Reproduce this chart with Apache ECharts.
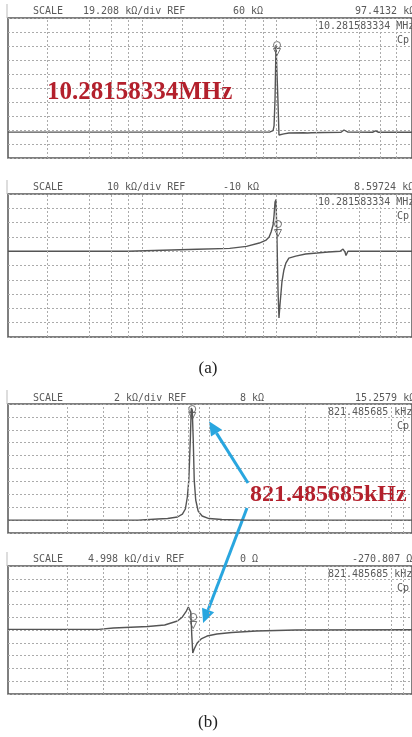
<!DOCTYPE html>
<html>
<head>
<meta charset="utf-8">
<script src="https://cdn.jsdelivr.net/npm/echarts@6/dist/echarts.min.js"></script>
<style>
  html, body { margin: 0; padding: 0; background: #ffffff; }
  #chart { width: 412px; height: 737px; }
</style>
</head>
<body>
<div id="chart"></div>
<script>
// Impedance analyser sweeps. x: sweep point, y: screen divisions (0 = bottom, 10 = top).

// (a) 10.28158334 MHz resonance — magnitude trace
const traceA1 = [
  [0, 1.85], [100, 1.85], [200, 1.85], [255, 1.85], [266, 1.86], [269, 1.95], [270, 2.3],
  [271, 4.2], [272, 8.07], [273, 8.0], [274, 4.0], [275, 1.64], [277, 1.62], [280, 1.72],
  [285, 1.79], [300, 1.8], [304, 1.79], [306, 1.7], [308, 1.8], [320, 1.82], [338, 1.84],
  [341, 2.0], [345, 1.85], [370, 1.84], [373, 1.93], [376, 1.84], [410, 1.84]
];
// (a) reactance-type trace
const traceA2 = [
  [0, 6.0], [122, 6.0], [124, 6.08], [192, 6.14], [225, 6.2], [242, 6.34], [255, 6.57],
  [262, 6.78], [265, 6.99], [267, 7.34], [269, 7.83], [270, 8.5], [271, 9.44], [272, 9.62],
  [273, 6.8], [274, 3.3], [275, 1.33], [276, 2.24], [278, 3.85], [280, 4.69], [282, 5.17],
  [285, 5.52], [292, 5.66], [302, 5.8], [325, 5.94], [337, 6.0], [340, 6.15], [342, 5.94],
  [343, 5.7], [345, 6.0], [368, 6.0], [370, 6.1], [373, 6.0], [410, 6.0]
];
// (b) 821.485685 kHz resonance — magnitude trace
const traceB1 = [
  [0, 1.0], [132, 1.0], [152, 1.08], [162, 1.12], [172, 1.24], [177, 1.47], [180, 1.86],
  [182, 2.79], [183.5, 4.1], [185, 7.2], [186, 9.69], [187, 9.53], [188, 7.2], [189, 4.1],
  [190.5, 2.56], [193, 1.7], [197, 1.32], [204, 1.12], [217, 1.05], [242, 1.0], [410, 1.0]
];
// (b) reactance-type trace
const traceB2 = [
  [0, 5.05], [92, 5.05], [107, 5.16], [142, 5.27], [159, 5.39], [172, 5.7], [177, 6.02],
  [181, 6.48], [183, 6.8], [184.5, 6.88], [185.5, 6.4], [186.5, 4.6], [187.5, 3.2],
  [189, 3.52], [192, 3.98], [196, 4.3], [202, 4.53], [212, 4.69], [227, 4.8], [252, 4.92],
  [292, 5.0], [410, 5.02]
];

// marker (circle above, inverted triangle below) at each resonance
const markerA1 = [[273, 8.07], [273, 7.57]];
const markerA2 = [[274, 7.9], [274, 7.27]];
const markerB1 = [[187, 9.61], [187, 9.07]];
const markerB2 = [[188, 6.02], [188, 5.39]];

// vertical graticule positions (sweep points)
const vLinesA = [40, 82, 105, 122, 136, 177, 218, 241, 259, 272, 313, 356, 378, 394];
const vLinesB = [60, 97, 122, 141, 172, 183, 194, 204, 265, 302, 325, 342, 389, 401];

// screen header fields
const headerA1 = ['SCALE', '19.208 kΩ/div REF', '60 kΩ', '97.4132 kΩ'];
const headerA2 = ['SCALE', '10 kΩ/div REF', '-10 kΩ', '8.59724 kΩ'];
const headerB1 = ['SCALE', '2 kΩ/div REF', '8 kΩ', '15.2579 kΩ'];
const headerB2 = ['SCALE', '4.998 kΩ/div REF', '0 Ω', '-270.807 Ω'];
const freqA = '10.281583334 MHz';
const freqB = '821.485685 kHz';
const paramName = 'Cp';
const calloutA = '10.28158334MHz';
const calloutB = '821.485685kHz';
const captions = ['(a)', '(b)'];

const panels = [
  { top: 18,  height: 140, trace: traceA1, marker: markerA1, vl: vLinesA, header: headerA1, freq: freqA, hx: [33, 83, 233, 355], hy: 11 },
  { top: 194, height: 143, trace: traceA2, marker: markerA2, vl: vLinesA, header: headerA2, freq: freqA, hx: [33, 107, 223, 354], hy: 187 },
  { top: 404, height: 129, trace: traceB1, marker: markerB1, vl: vLinesB, header: headerB1, freq: freqB, hx: [33, 114, 240, 355], hy: 398 },
  { top: 566, height: 128, trace: traceB2, marker: markerB2, vl: vLinesB, header: headerB2, freq: freqB, hx: [33, 88, 240, 352], hy: 559 }
];

const gridColor = '#ababab';
const traceColor = '#555555';
const monoFont = '10px "DejaVu Sans Mono", monospace';

const chart = echarts.init(document.getElementById('chart'), null, { renderer: 'canvas' });

const grid = [], xAxis = [], yAxis = [], series = [];
panels.forEach((p, i) => {
  grid.push({
    left: 8, top: p.top, width: 410, height: p.height,
    show: true, borderColor: '#555', borderWidth: 1.5, backgroundColor: 'transparent'
  });
  xAxis.push({
    gridIndex: i, type: 'value', min: 0, max: 410,
    axisLine: { show: false }, axisTick: { show: false }, axisLabel: { show: false },
    splitLine: { show: false }
  });
  yAxis.push({
    gridIndex: i, type: 'value', min: 0, max: 10, interval: 1,
    axisLine: { show: false }, axisTick: { show: false }, axisLabel: { show: false },
    splitLine: { show: true, lineStyle: { type: [2, 2], color: gridColor, width: 1 } }
  });
  series.push({
    type: 'line', xAxisIndex: i, yAxisIndex: i, data: p.trace,
    showSymbol: false, smooth: false, z: 3,
    lineStyle: { color: traceColor, width: 1.4 },
    markLine: {
      silent: true, symbol: ['none', 'none'], label: { show: false }, animation: false,
      lineStyle: { type: [2, 2], color: gridColor, width: 1 },
      data: p.vl.map(v => ({ xAxis: v }))
    }
  });
  series.push({
    type: 'scatter', xAxisIndex: i, yAxisIndex: i, z: 4,
    data: [
      { value: p.marker[0], symbol: 'circle' },
      { value: p.marker[1], symbol: 'triangle', symbolRotate: 180 }
    ],
    symbolSize: 7,
    itemStyle: { color: 'rgba(255,255,255,0)', borderColor: '#555', borderWidth: 1 }
  });
});

chart.setOption({
  animation: false,
  backgroundColor: '#ffffff',
  grid, xAxis, yAxis, series
});

// text, callouts and arrows
const g = [];
panels.forEach(p => {
  p.header.forEach((t, k) => {
    g.push({ type: 'text', x: p.hx[k], y: p.hy, silent: true,
      style: { text: t, font: monoFont, fill: '#5a5a5a', textVerticalAlign: 'middle' } });
  });
  g.push({ type: 'text', x: p.freq === freqA ? 318 : 328, y: p.top + 8, silent: true,
    style: { text: p.freq, font: monoFont, fill: '#5a5a5a', textVerticalAlign: 'middle' } });
  g.push({ type: 'text', x: 397, y: p.top + 22, silent: true,
    style: { text: paramName, font: monoFont, fill: '#5a5a5a', textVerticalAlign: 'middle' } });
  g.push({ type: 'line', silent: true,
    shape: { x1: 7, y1: p.top - 14, x2: 7, y2: p.top },
    style: { stroke: '#bbb', lineWidth: 1 } });
});

g.push({ type: 'text', x: 47, y: 93, silent: true,
  style: { text: calloutA, font: 'bold 25px "Liberation Serif", serif', fill: '#b3202c', textVerticalAlign: 'middle' } });
g.push({ type: 'text', x: 250, y: 495, silent: true,
  style: { text: calloutB, font: 'bold 24px "Liberation Serif", serif', fill: '#b3202c', textVerticalAlign: 'middle' } });

g.push({ type: 'text', x: 208, y: 369, silent: true,
  style: { text: captions[0], font: '17px "Liberation Serif", serif', fill: '#222', textAlign: 'center', textVerticalAlign: 'middle' } });
g.push({ type: 'text', x: 208, y: 723, silent: true,
  style: { text: captions[1], font: '17px "Liberation Serif", serif', fill: '#222', textAlign: 'center', textVerticalAlign: 'middle' } });

// arrows from the (b) callout to the two resonance markers
function arrow(s, t) {
  const dx = t[0] - s[0], dy = t[1] - s[1];
  const len = Math.sqrt(dx * dx + dy * dy);
  const ux = dx / len, uy = dy / len;
  const L = 14, W = 6.5;
  const bx = t[0] - ux * L, by = t[1] - uy * L;
  const col = '#29a6df';
  g.push({ type: 'line', silent: true,
    shape: { x1: s[0], y1: s[1], x2: bx, y2: by },
    style: { stroke: col, lineWidth: 3 } });
  g.push({ type: 'polygon', silent: true,
    shape: { points: [[t[0], t[1]], [bx - uy * W, by + ux * W], [bx + uy * W, by - ux * W]] },
    style: { fill: col } });
}
const tipB1 = chart.convertToPixel({ gridIndex: 2 }, [markerB1[0][0] + 17, markerB1[0][1] - 0.95]);
const tipB2 = chart.convertToPixel({ gridIndex: 3 }, [markerB2[1][0] + 10, markerB2[1][1] + 0.15]);
arrow([248, 483], tipB1);
arrow([247, 508], tipB2);

chart.setOption({ graphic: { elements: g } });
</script>
</body>
</html>
